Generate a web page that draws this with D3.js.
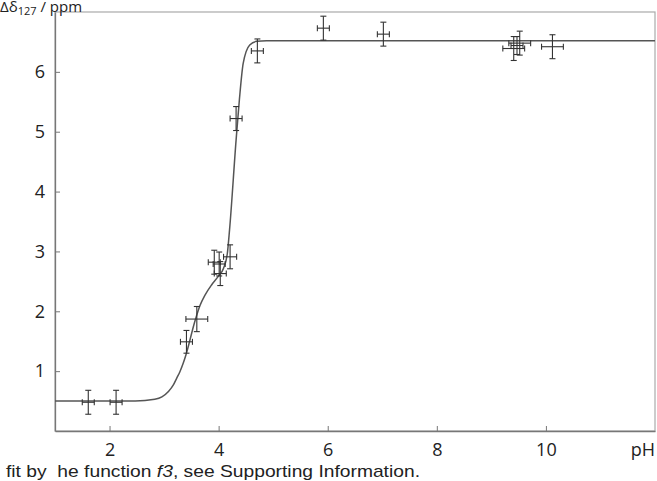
<!DOCTYPE html>
<html>
<head>
<meta charset="utf-8">
<script src="https://cdn.jsdelivr.net/npm/d3@7"></script>
<style>
  body { margin: 0; background: #fff; }
  svg { display: block; }
</style>
</head>
<body>
<svg id="chart" width="657" height="481"></svg>
<script>
// measured points (pH, shift) with error bars
const phValues    = [1.61, 2.12, 3.41, 3.60, 3.92, 4.01, 4.03, 4.21, 4.32, 4.71, 5.92, 7.02, 9.41, 9.47, 9.52, 10.12];
const shiftValues = [0.48, 0.48, 1.49, 1.87, 2.82, 2.79, 2.63, 2.91, 5.22, 6.35, 6.73, 6.63, 6.39, 6.44, 6.48, 6.42];
const phErrors    = [0.11, 0.11, 0.11, 0.20, 0.11, 0.11, 0.11, 0.12, 0.11, 0.11, 0.11, 0.11, 0.20, 0.11, 0.20, 0.20];
const shiftErrors = [0.20, 0.20, 0.19, 0.21, 0.20, 0.20, 0.20, 0.20, 0.20, 0.20, 0.20, 0.20, 0.20, 0.15, 0.20, 0.20];

// fitted curve
const fitPh    = [1.0, 2.47, 2.83, 2.96, 3.08, 3.17, 3.23, 3.29, 3.35, 3.40, 3.57, 3.66, 3.75, 3.87, 3.99, 4.09, 4.16, 4.20, 4.32, 4.38, 4.45, 4.57, 4.70, 4.88, 12.0];
const fitShift = [0.50, 0.50, 0.53, 0.57, 0.66, 0.77, 0.88, 0.99, 1.13, 1.27, 1.85, 2.10, 2.27, 2.44, 2.58, 2.72, 2.97, 3.36, 4.86, 5.53, 6.14, 6.45, 6.51, 6.52, 6.52];

const xTicks = [2, 4, 6, 8, 10];
const yTicks = [1, 2, 3, 4, 5, 6];

const margin = { top: 12, right: 2, bottom: 50, left: 55 };
const width = 657, height = 481;

const svg = d3.select("#chart");

const xScale = d3.scaleLinear().domain([1, 12]).range([margin.left, width - margin.right]);
const yScale = d3.scaleLinear().domain([0, 7]).range([height - margin.bottom, margin.top]);

// frame
svg.append("rect")
  .attr("x", margin.left).attr("y", margin.top)
  .attr("width", width - margin.right - margin.left)
  .attr("height", height - margin.bottom - margin.top)
  .attr("fill", "none").attr("stroke", "#aaa").attr("stroke-width", 1.2);

const styleAxis = (g) =>
  g.call((g) => g.select(".domain").attr("stroke", "#777").attr("stroke-width", 1.3))
    .call((g) => g.selectAll(".tick line").attr("stroke", "#777"))
    .call((g) => g.selectAll(".tick text").attr("font-family", "Open Sans").attr("font-size", 18).attr("fill", "#222"));

const xAxis = (g) =>
  g.call(d3.axisBottom(xScale).tickValues(xTicks).tickFormat(d3.format("d"))
      .tickSizeInner(-5).tickSizeOuter(0).tickPadding(12))
    .call(styleAxis);

const yAxis = (g) =>
  g.call(d3.axisLeft(yScale).tickValues(yTicks).tickFormat(d3.format("d"))
      .tickSizeInner(-5).tickSizeOuter(0).tickPadding(10))
    .call(styleAxis);

svg.append("g").attr("transform", `translate(0, ${height - margin.bottom})`).call(xAxis);
svg.append("g").attr("transform", `translate(${margin.left}, 0)`).call(yAxis);

// fit line
const line = d3.line()
  .x((d, i) => xScale(fitPh[i]))
  .y((d, i) => yScale(fitShift[i]))
  .curve(d3.curveMonotoneX);

svg.append("path")
  .datum(fitPh)
  .attr("d", line)
  .attr("fill", "none")
  .attr("stroke", "#555")
  .attr("stroke-width", 1.5);

// error crosses
const cap = 3;
const points = svg.append("g").attr("stroke", "#333").attr("stroke-width", 1.1).attr("fill", "none");
phValues.forEach((ph, i) => {
  const cx = xScale(ph), cy = yScale(shiftValues[i]);
  const x0 = xScale(ph - phErrors[i]), x1 = xScale(ph + phErrors[i]);
  const y0 = yScale(shiftValues[i] - shiftErrors[i]), y1 = yScale(shiftValues[i] + shiftErrors[i]);
  const g = points.append("g");
  g.append("line").attr("x1", x0).attr("x2", x1).attr("y1", cy).attr("y2", cy);
  g.append("line").attr("x1", cx).attr("x2", cx).attr("y1", y0).attr("y2", y1);
  g.append("line").attr("x1", x0).attr("x2", x0).attr("y1", cy - cap).attr("y2", cy + cap);
  g.append("line").attr("x1", x1).attr("x2", x1).attr("y1", cy - cap).attr("y2", cy + cap);
  g.append("line").attr("x1", cx - cap).attr("x2", cx + cap).attr("y1", y0).attr("y2", y0);
  g.append("line").attr("x1", cx - cap).attr("x2", cx + cap).attr("y1", y1).attr("y2", y1);
});

// axis titles
const yTitle = svg.append("text")
  .attr("x", 0).attr("y", 12)
  .attr("font-family", "Open Sans").attr("font-size", 15).attr("fill", "#222");
yTitle.append("tspan").text("Δδ");
yTitle.append("tspan").attr("font-size", 11).attr("dy", 3).text("127");
yTitle.append("tspan").attr("dy", -3).text(" / ppm");

svg.append("text")
  .attr("x", 655).attr("y", 456)
  .attr("text-anchor", "end")
  .attr("font-family", "Open Sans").attr("font-size", 18).attr("fill", "#222")
  .text("pH");

// caption
const caption = svg.append("text")
  .attr("x", 6).attr("y", 477)
  .attr("xml:space", "preserve")
  .style("white-space", "pre")
  .attr("font-family", "Liberation Sans").attr("font-size", 17).attr("fill", "#222")
  .attr("textLength", 414).attr("lengthAdjust", "spacingAndGlyphs");
caption.append("tspan").text("fit by  he function ");
caption.append("tspan").attr("font-style", "italic").text("f3");
caption.append("tspan").text(", see Supporting Information.");
</script>
</body>
</html>
